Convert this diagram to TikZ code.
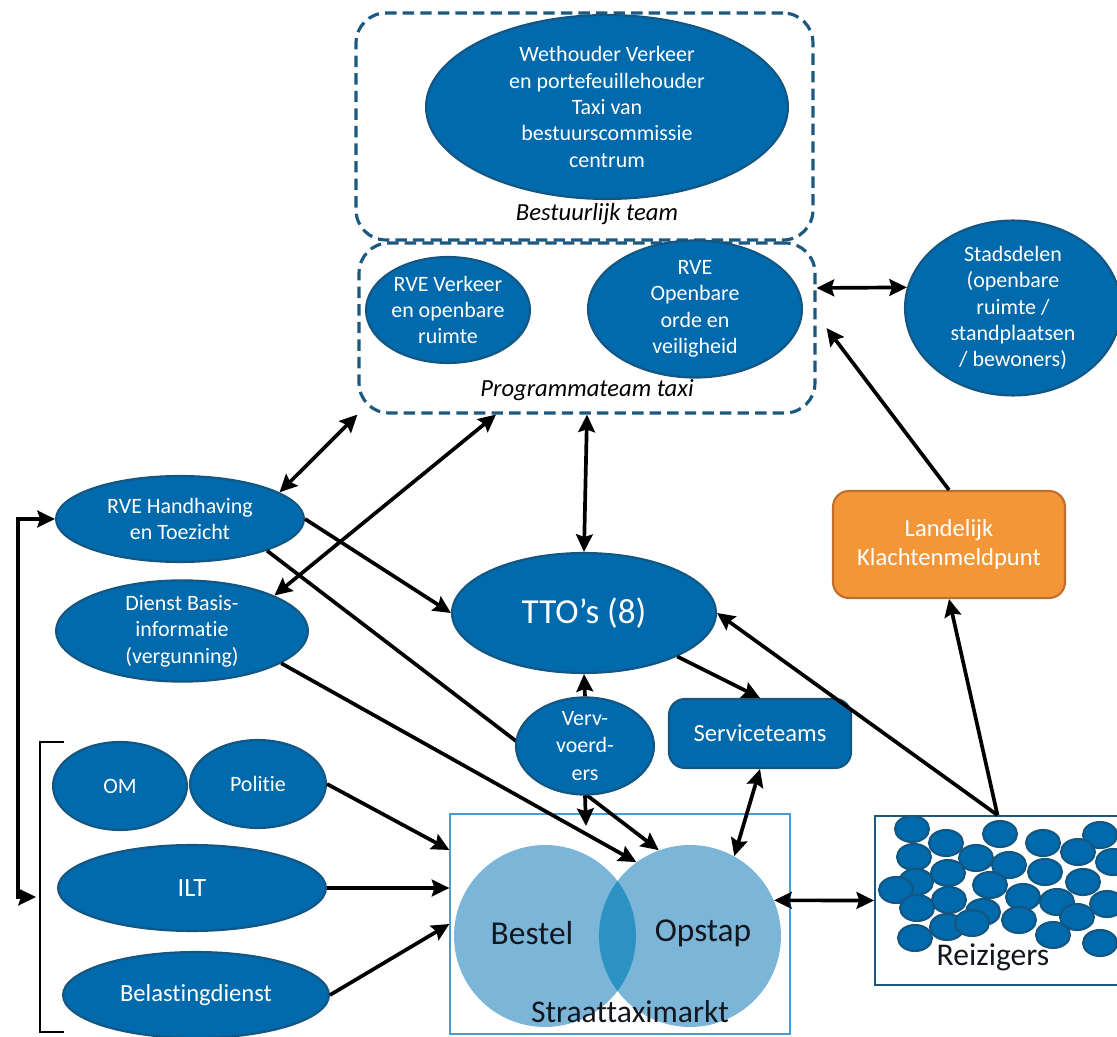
\documentclass[tikz,border=0pt]{standalone}
\usepackage{fontspec}
\setmainfont{Carlito}[Ligatures={NoCommon}]
\usetikzlibrary{shapes.geometric,arrows.meta}

\definecolor{orgblue}{RGB}{0,106,172}
\definecolor{orgrand}{RGB}{20,86,130}
\definecolor{teamrand}{RGB}{28,88,128}
\definecolor{klachtoranje}{RGB}{243,150,56}
\definecolor{klachtrand}{RGB}{192,110,44}
\definecolor{marktblauw}{RGB}{123,182,216}
\definecolor{marktrand}{RGB}{70,158,212}
\definecolor{overlap}{RGB}{44,146,196}
\definecolor{donker}{RGB}{18,22,30}

\tikzset{
  org/.style={ellipse, draw=orgrand, line width=1.2pt, fill=orgblue,
    text=white, align=center, inner sep=0pt,
    font=\fontsize{12.5}{15}\selectfont},
  orgbox/.style={org, rectangle, rounded corners=9pt},
  team/.style={draw=teamrand, line width=1.8pt, dash pattern=on 6.5pt off 3.5pt,
    rounded corners=17pt, inner sep=0pt},
  teamlabel/.style={font=\fontsize{14}{17}\selectfont\itshape},
  markttekst/.style={text=donker, inner sep=0pt},
  pijl/.style={line width=2.1pt, -{Stealth[length=10pt,width=9.5pt,inset=1.5pt]}},
  tweepijl/.style={pijl, {Stealth[length=10pt,width=9.5pt,inset=1.5pt]}-{Stealth[length=10pt,width=9.5pt,inset=1.5pt]}},
}

\begin{document}
\begin{tikzpicture}[x=0.02cm, y=-0.02cm]
  \useasboundingbox (0,0) rectangle (1117,1037);

  % bestuurlijk team
  \node[team, minimum width=9.14cm, minimum height=4.54cm] (bestuur) at (584.5,126.5) {};
  \node[org, minimum width=7.24cm, minimum height=3.68cm] (wethouder) at (607,107)
    {Wethouder Verkeer\\en portefeuillehouder\\Taxi van\\bestuurscommissie\\centrum};
  \node[teamlabel] (bestuurlabel) at (597,214) {Bestuurlijk team};

  % programmateam
  \node[team, minimum width=9.12cm, minimum height=3.4cm] (prog) at (587,328) {};
  \node[org, minimum width=3.28cm, minimum height=2.12cm] (rveverkeer) at (448,310)
    {RVE Verkeer\\en openbare\\ruimte};
  \node[org, minimum width=4.28cm, minimum height=2.12cm] (rveorde) at (695,309)
    {RVE\\Openbare\\orde en\\veiligheid};
  \node[teamlabel] (proglabel) at (587,390) {Programmateam taxi};

  \node[org, minimum width=4.32cm, minimum height=3cm] (stads) at (1013,308)
    {Stadsdelen\\(openbare\\ruimte /\\standplaatsen\\/ bewoners)};
  \node[orgbox, fill=klachtoranje, draw=klachtrand, minimum width=4.64cm, minimum height=2.14cm,
    font=\fontsize{14}{17}\selectfont] (klacht) at (949,544.5) {Landelijk\\Klachtenmeldpunt};

  \node[org, minimum width=4.96cm, minimum height=1.72cm] (handhaving) at (180,519)
    {RVE Handhaving\\en Toezicht};
  \node[org, minimum width=5.04cm, minimum height=1.8cm] (dienst) at (182,631)
    {Dienst Basis-\\informatie\\(vergunning)};
  \node[org, minimum width=5.28cm, minimum height=2.4cm,
    font=\fontsize{20}{24}\selectfont] (tto) at (584,613) {TTO’s (8)};
  \node[orgbox, minimum width=3.64cm, minimum height=1.38cm,
    font=\fontsize{14}{17}\selectfont] (service) at (760,733.5) {Serviceteams};

  \node[org, minimum width=2.68cm, minimum height=1.76cm] (om) at (120,786) {OM};
  \node[org, minimum width=2.72cm, minimum height=1.76cm] (politie) at (258,784) {Politie};
  \node[org, minimum width=5.36cm, minimum height=1.72cm,
    font=\fontsize{15}{18}\selectfont] (ilt) at (192,888) {ILT};
  \node[org, minimum width=5.32cm, minimum height=1.72cm,
    font=\fontsize{14}{17}\selectfont] (belasting) at (196,995) {Belastingdienst};

  % straattaximarkt
  \node[draw=marktrand, line width=0.7pt, minimum width=6.8cm, minimum height=4.4cm,
    inner sep=0pt] (markt) at (620,924) {};
  \node[circle, fill=marktblauw, minimum size=3.64cm, inner sep=0pt] (bestel) at (545,936) {};
  \node[circle, fill=marktblauw, minimum size=3.64cm, inner sep=0pt] (opstap) at (690,936) {};
  \begin{scope}
    \clip (545,936) circle (1.82cm);
    \fill[overlap] (690,936) circle (1.82cm);
  \end{scope}
  \node[markttekst, font=\fontsize{19}{23}\selectfont] (besteltekst) at (532,933) {Bestel};
  \node[markttekst, font=\fontsize{19}{23}\selectfont] (opstaptekst) at (703,933) {Opstap};
  \node[markttekst, font=\fontsize{18}{22}\selectfont] (markttekst) at (630,1012) {Straattaximarkt};

  % reizigers
  \node[draw=teamrand, line width=1pt, minimum width=4.9cm, minimum height=3.38cm,
    inner sep=0pt] (reiz) at (997.5,900.5) {};
  \foreach \x/\y in {912/829, 946/843, 1000/834, 1043/843, 1100/835, 1078/852, 914/857,
      976/858, 1009/865, 1045/872, 1113/862, 948/873, 916/882, 896/890, 990/885,
      1083/882, 949/900, 1023/897, 1057/902, 1107/904, 917/908, 983/912, 1019/920,
      1077/917, 947/927, 972/923, 915/938, 1053/935, 1100/943}
    \filldraw[fill=orgblue, draw=orgrand, line width=1.2pt]
      (\x,\y) ellipse [x radius=0.34cm, y radius=0.26cm];
  \node[markttekst, font=\fontsize{18}{22}\selectfont] (reiztekst) at (993,957) {Reizigers};

  % haak om OM, Politie, ILT en Belastingdienst
  \draw[line width=1.5pt] (64,742) -- (40,742) -- (40,1032) -- (64,1032);
  \coordinate (haak) at (36,897);

  % deze lijn loopt achter de vervoerders langs
  \draw[pijl] (handhaving.-20) -- (opstap.110);
  \node[org, minimum width=2.76cm, minimum height=1.88cm,
    font=\fontsize{12.5}{15.5}\selectfont] (verv) at (585,746) {Verv-\\voerd-\\ers};
  \coordinate (vervpunt) at (586,826);

  \draw[tweepijl] (haak) -- ++(-18,0) |- (handhaving.west);
  \draw[tweepijl] (handhaving.15) -- (prog.south west);
  \draw[tweepijl] (dienst.21) -- ([xshift=-1.82cm]prog.south);
  \draw[tweepijl] (prog.south) -- (tto.north);
  \draw[pijl] (handhaving.east) -- (tto.west);
  \draw[pijl] (dienst.-18) -- (opstap.126);
  \draw[pijl] (verv.north) -- (tto.south);
  \draw[pijl] (verv.south) -- (vervpunt);
  \draw[pijl] (tto.-25) -- (service.north);
  \draw[tweepijl] (service.south) -- (opstap.61);
  \draw[pijl] (reiz.north) -- (tto.east);
  \draw[pijl] (reiz.north) -- (klacht.south);
  \draw[tweepijl] (opstap.23) -- (reiz.west);
  \draw[tweepijl] ([yshift=0.8cm]prog.east) -- (stads.169);
  \draw[pijl] (klacht.north) -- ([xshift=0.2cm]prog.east);
  \draw[pijl] (politie.east) -- ([yshift=1.48cm]markt.west);
  \draw[pijl] (ilt.east) -- (ilt.east -| markt.west);
  \draw[pijl] (belasting.east) -- (markt.west);
\end{tikzpicture}
\end{document}
